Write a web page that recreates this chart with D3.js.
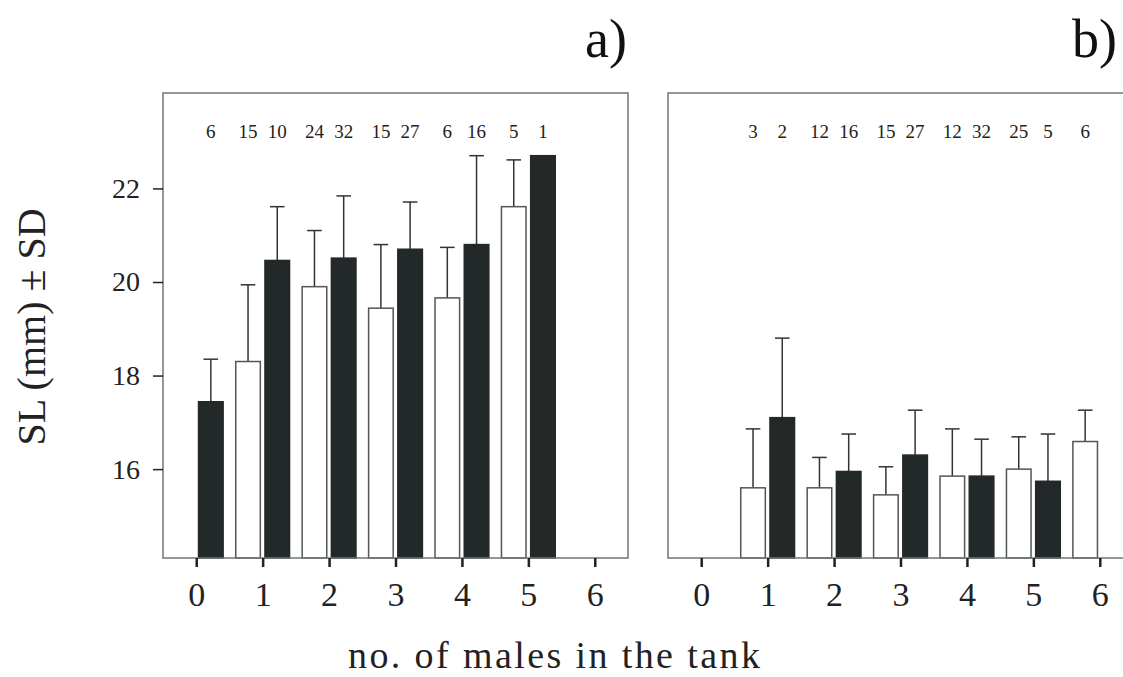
<!DOCTYPE html>
<html>
<head>
<meta charset="utf-8">
<script src="https://cdn.jsdelivr.net/npm/d3@7"></script>
<style>
  body { margin: 0; background: #fff; }
  svg { display: block; font-family: "Liberation Serif", "DejaVu Serif", serif; }
</style>
</head>
<body>
<script>
// number of males in the tank
const groups = [0, 1, 2, 3, 4, 5, 6];
const yTicks = [16, 18, 20, 22];

// panel a) means, SD and n  (white = open bars, black = filled bars)
const aWhite = [null, 18.3, 19.9, 19.44, 19.66, 21.61, null];
const aWhiteSD = [null, 1.64, 1.2, 1.36, 1.08, 1.0, null];
const aWhiteN = [null, 15, 24, 15, 6, 5, null];
const aBlack = [17.44, 20.46, 20.51, 20.7, 20.8, 22.7, null];
const aBlackSD = [0.91, 1.15, 1.33, 1.01, 1.9, null, null];
const aBlackN = [6, 10, 32, 27, 16, 1, null];

// panel b)
const bWhite = [null, 15.6, 15.6, 15.45, 15.85, 16.0, 16.59];
const bWhiteSD = [null, 1.26, 0.65, 0.6, 1.01, 0.69, 0.67];
const bWhiteN = [null, 3, 12, 15, 12, 25, 6];
const bBlack = [null, 17.1, 15.95, 16.3, 15.85, 15.74, null];
const bBlackSD = [null, 1.7, 0.8, 0.96, 0.79, 1.01, null];
const bBlackN = [null, 2, 16, 27, 32, 5, null];

const W = 1123, H = 677;
const plotTop = 93, plotBottom = 558, panelW = 465;

const svg = d3.select("body").append("svg")
  .attr("width", W).attr("height", H);

const y = d3.scaleLinear([14.1, 24.04], [plotBottom, plotTop]);

function drawPanel(left, title, white, whiteSD, whiteN, black, blackSD, blackN, showY) {
  const x = d3.scaleLinear([-0.5, 6.5], [left, left + panelW]);
  const g = svg.append("g");
  const bw = x(0.37) - x(0);
  const gap = x(0.035) - x(0);
  const cap = x(0.11) - x(0);

  const rows = [];
  groups.forEach((k, i) => {
    if (white[i] != null) rows.push({ k, v: white[i], sd: whiteSD[i], n: whiteN[i], x0: x(k) - gap - bw, fill: "#fff" });
    if (black[i] != null) rows.push({ k, v: black[i], sd: blackSD[i], n: blackN[i], x0: x(k) + gap, fill: "#232829" });
  });

  // error bars (upper only)
  const err = rows.filter((d) => d.sd != null);
  g.selectAll(".eb").data(err).enter().append("line")
    .attr("x1", (d) => d.x0 + bw / 2).attr("x2", (d) => d.x0 + bw / 2)
    .attr("y1", (d) => y(d.v)).attr("y2", (d) => y(d.v + d.sd))
    .attr("stroke", "#333").attr("stroke-width", 1.5);
  g.selectAll(".cap").data(err).enter().append("line")
    .attr("x1", (d) => d.x0 + bw / 2 - cap).attr("x2", (d) => d.x0 + bw / 2 + cap)
    .attr("y1", (d) => y(d.v + d.sd)).attr("y2", (d) => y(d.v + d.sd))
    .attr("stroke", "#333").attr("stroke-width", 1.5);

  g.selectAll(".bar").data(rows).enter().append("rect")
    .attr("x", (d) => d.x0)
    .attr("y", (d) => y(d.v))
    .attr("width", bw)
    .attr("height", (d) => plotBottom - y(d.v))
    .attr("fill", (d) => d.fill)
    .attr("stroke", (d) => (d.fill === "#fff" ? "#555" : "#232829"))
    .attr("stroke-width", 1.5);

  // n labels
  g.selectAll(".n").data(rows).enter().append("text")
    .attr("x", (d) => d.x0 + bw / 2)
    .attr("y", 138)
    .attr("text-anchor", "middle")
    .attr("font-size", 19)
    .attr("fill", "#222")
    .text((d) => d.n);

  // frame
  g.append("rect")
    .attr("x", left).attr("y", plotTop)
    .attr("width", panelW).attr("height", plotBottom - plotTop)
    .attr("fill", "none").attr("stroke", "#6d7777").attr("stroke-width", 1.5);

  const xa = g.append("g")
    .attr("transform", `translate(0,${plotBottom})`)
    .call(d3.axisBottom(x).tickValues(groups).tickFormat(d3.format("d")).tickSize(9));
  xa.select(".domain").remove();
  xa.selectAll("line").attr("stroke", "#222").attr("stroke-width", 2.5);
  xa.selectAll("text")
    .attr("y", 48).attr("dy", null)
    .attr("font-size", 34).attr("font-family", "Liberation Serif, serif").attr("fill", "#222");

  if (showY) {
    const ya = g.append("g")
      .attr("transform", `translate(${left},0)`)
      .call(d3.axisLeft(y).tickValues(yTicks).tickSize(10).tickPadding(13));
    ya.select(".domain").remove();
    ya.selectAll("line").attr("stroke", "#222").attr("stroke-width", 1.5);
    ya.selectAll("text")
      .attr("font-size", 28).attr("font-family", "Liberation Serif, serif").attr("fill", "#222");
  }

  svg.append("text")
    .attr("x", title === "a)" ? 627 : 1117)
    .attr("y", 57)
    .attr("text-anchor", "end")
    .attr("font-size", 54)
    .attr("fill", "#111")
    .text(title);
}

drawPanel(163, "a)", aWhite, aWhiteSD, aWhiteN, aBlack, aBlackSD, aBlackN, true);
drawPanel(668, "b)", bWhite, bWhiteSD, bWhiteN, bBlack, bBlackSD, bBlackN, false);

svg.append("text")
  .attr("transform", "translate(45,327) rotate(-90)")
  .attr("text-anchor", "middle")
  .attr("font-size", 40)
  .attr("fill", "#222")
  .text("SL (mm) \u00b1 SD");

svg.append("text")
  .attr("x", 348)
  .attr("y", 668)
  .attr("font-size", 38)
  .attr("letter-spacing", 2.4)
  .attr("fill", "#222")
  .text("no. of males in the tank");
</script>
</body>
</html>
